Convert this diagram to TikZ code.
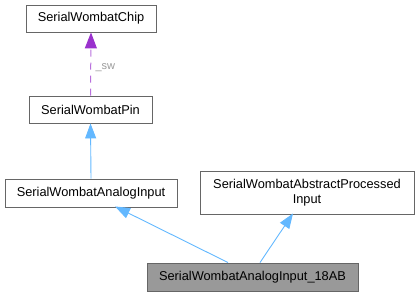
\documentclass[tikz,border=0pt]{standalone}
\usepackage{fontspec}
\setmainfont{Liberation Sans}
\usetikzlibrary{arrows.meta}
\definecolor{edgeblue}{HTML}{63B8FF}
\definecolor{edgepurple}{HTML}{9A32CD}
\definecolor{boxline}{HTML}{666666}
\definecolor{curfill}{HTML}{999999}
\definecolor{lblgrey}{HTML}{9A9A9A}
\begin{document}
\begin{tikzpicture}[x=1pt,y=-1pt,
  cls/.style={draw=boxline,line width=0.9pt,fill=white,rectangle,inner sep=0pt,
    font=\fontsize{12.8}{15.5}\selectfont,align=center},
  current/.style={cls,fill=curfill},
  inherit/.style={draw=edgeblue,line width=0.9pt,
    -{Triangle[length=15pt,width=11pt]}},
  usage/.style={draw=edgepurple!70,line width=1pt,dash pattern=on 7pt off 6pt,
    -{Triangle[length=16pt,width=12pt,color=edgepurple]}}]
\useasboundingbox (0,0) rectangle (419,296);
\node[cls,minimum width=130pt,minimum height=27pt] (chip) at (91,18.5) {SerialWombatChip};
\node[cls,minimum width=123pt,minimum height=27pt] (pin) at (90.5,109.5) {SerialWombatPin};
\node[cls,minimum width=172pt,minimum height=28pt] (ai) at (91,193) {SerialWombatAnalogInput};
\node[cls,minimum width=214pt,minimum height=43pt] (api) at (307,192.5) {SerialWombatAbstractProcessed\\Input};
\node[current,minimum width=211pt,minimum height=28pt] (ab) at (252.5,277) {SerialWombatAnalogInput\_18AB};
% member relation
\draw[usage] (pin.north) -- node[right,xshift=1pt,yshift=-4pt,text=lblgrey,font=\fontsize{11}{13}\selectfont] {\_sw} (chip.south);
% inheritance
\draw[inherit] (ai.north) -- (pin.south);
\draw[inherit] ([xshift=-24.5pt]ab.north) -- ([xshift=24pt,yshift=1pt]ai.south);
\draw[inherit] ([xshift=7.5pt]ab.north) -- ([xshift=-14pt,yshift=1pt]api.south);
\end{tikzpicture}
\end{document}
